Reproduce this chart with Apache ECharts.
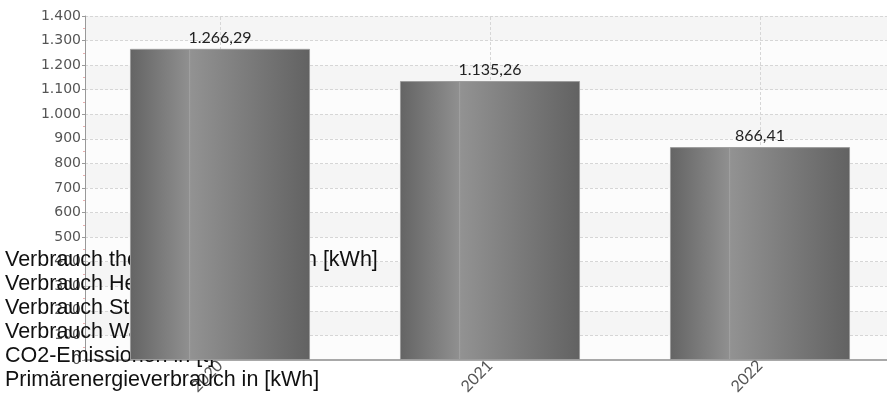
<!DOCTYPE html>
<html>
<head>
<meta charset="utf-8">
<script src="https://cdn.jsdelivr.net/npm/echarts@6/dist/echarts.min.js"></script>
<style>html,body{margin:0;padding:0;background:#fff;}#c{width:887px;height:396px;}</style>
</head>
<body>
<div id="c"></div>
<script>
var categories = ['2020', '2021', '2022'];
var values = [1266.29, 1135.26, 866.41];
var legendLines = [
  'Verbrauch thermische Energie in [kWh]',
  'Verbrauch Heizung in [kWh]',
  'Verbrauch Strom in [kWh]',
  'Verbrauch Wasser in [m³]',
  'CO2-Emissionen in [t]',
  'Primärenergieverbrauch in [kWh]'
];
var yMin = 0, yMax = 1400, yStep = 100;

function groupThousands(intStr) {
  return intStr.replace(/\B(?=(\d{3})+(?!\d))/g, '.');
}
function fmtInt(v) { return groupThousands(String(Math.round(v))); }
function fmtDec(v) {
  var s = v.toFixed(2).split('.');
  return groupThousands(s[0]) + ',' + s[1];
}

var gridLineStyle = { color: '#d6d6d6', type: [3, 2], width: 1 };

var chart = echarts.init(document.getElementById('c'));
chart.setOption({
  animation: false,
  backgroundColor: '#ffffff',
  grid: { left: 85, width: 810, top: 16, height: 344, containLabel: false, outerBoundsMode: 'none' },
  xAxis: {
    type: 'category',
    data: categories,
    boundaryGap: true,
    axisLine: { show: true, lineStyle: { color: '#a8a8a8', width: 2 } },
    axisTick: { show: false },
    axisLabel: { rotate: 45, color: '#555', fontFamily: 'Lato', fontSize: 16, margin: 3 },
    splitLine: { show: false }
  },
  yAxis: {
    type: 'value',
    min: yMin, max: yMax, interval: yStep,
    axisLine: { show: true, lineStyle: { color: '#999', width: 1 } },
    axisTick: { show: true, length: 3, lineStyle: { color: '#999' } },
    minorTick: { show: true, splitNumber: 2, length: 2, lineStyle: { color: '#e8b0b0' } },
    axisLabel: { color: '#555', fontFamily: 'DejaVu Sans', fontSize: 14, margin: 4, formatter: fmtInt },
    splitLine: { show: true, lineStyle: gridLineStyle },
    splitArea: { show: true, areaStyle: { color: ['#fcfcfc', '#f5f5f5'] } }
  },
  graphic: [{
    type: 'text',
    left: 5,
    top: 248,
    z: 1,
    style: {
      text: legendLines.join('\n'),
      font: '21.5px "Liberation Sans", Arial, sans-serif',
      lineHeight: 24,
      fill: '#111'
    }
  }],
  series: [{
    type: 'line',
    data: [],
    z: 0,
    silent: true,
    markLine: {
      silent: true,
      z: 0,
      symbol: 'none',
      label: { show: false },
      lineStyle: gridLineStyle,
      data: categories.map(function (c) { return { xAxis: c }; })
    }
  }, {
    type: 'bar',
    data: values,
    barWidth: '66.7%',
    z: 2,
    itemStyle: {
      borderColor: '#9c9c9c',
      borderWidth: 1,
      color: {
        type: 'linear', x: 0, y: 0, x2: 1, y2: 0,
        colorStops: [
          { offset: 0, color: '#646464' },
          { offset: 0.325, color: '#8f8f8f' },
          { offset: 0.33, color: '#a0a0a0' },
          { offset: 0.337, color: '#929292' },
          { offset: 1, color: '#626262' }
        ]
      }
    },
    label: {
      show: true, position: 'top', distance: 3,
      color: '#222', fontFamily: 'Lato', fontSize: 16,
      formatter: function (p) { return fmtDec(p.value); }
    }
  }]
});
</script>
</body>
</html>
